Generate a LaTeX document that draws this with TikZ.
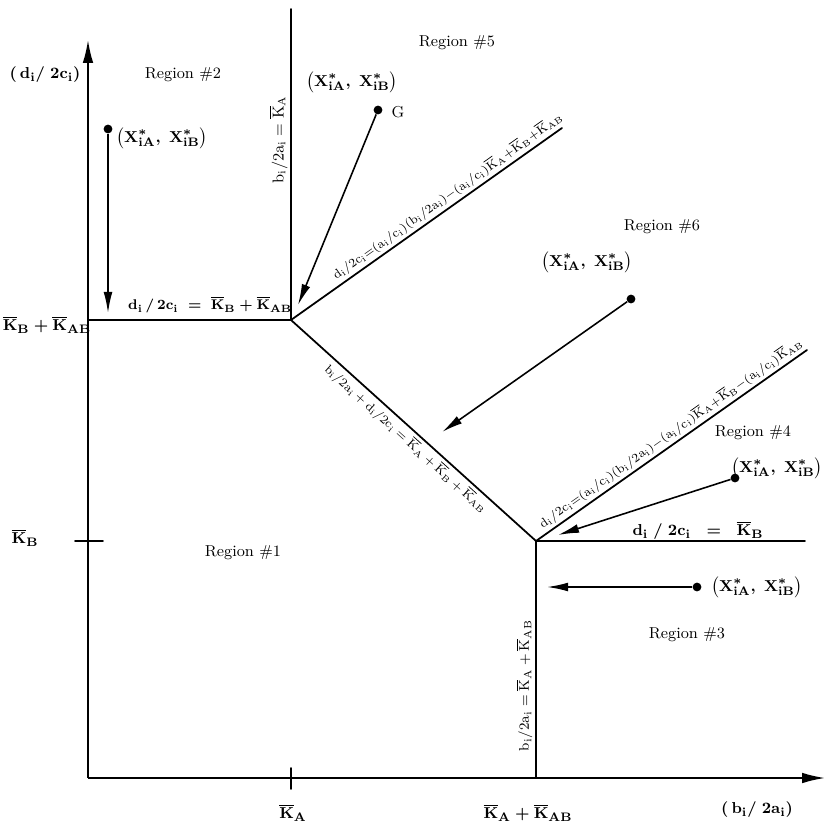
\documentclass[tikz,border=0pt]{standalone}
\usetikzlibrary{arrows.meta}
\newcommand{\Kb}[1]{\overline{\mathrm{K}}_{\mathrm{#1}}}
\newcommand{\Xs}{\bigl(\mathrm{X}^{*}_{\mathrm{iA}},\;\mathrm{X}^{*}_{\mathrm{iB}}\bigr)}
\tikzset{
  axis/.style={line width=1pt,-{Latex[length=13pt,width=6pt]}},
  bound/.style={line width=1pt,line cap=round},
  move/.style={line width=0.9pt,-{Latex[length=12pt,width=5pt]}},
  pt/.style={circle,fill,inner sep=0pt,minimum size=5pt},
  region/.style={font=\fontsize{9}{11}\selectfont},
  xlab/.style={font=\fontsize{9.5}{12}\selectfont\boldmath},
  mlab/.style={font=\fontsize{9.5}{11}\selectfont\boldmath},
  eqlab/.style={font=\fontsize{7}{8}\selectfont,sloped,inner sep=1.5pt},
  vlab/.style={font=\fontsize{8}{9}\selectfont,sloped,inner sep=1.5pt}
}
\begin{document}
\begin{tikzpicture}[x=0.02cm,y=0.02cm]
\useasboundingbox (0,0) rectangle (825,823);
\coordinate (O) at (88,45);
\coordinate (ytop) at (88,783);
\coordinate (xend) at (825,45);
\coordinate (P1) at (291,503);
\coordinate (P2) at (536,282);
\coordinate (top) at (291,814);
\coordinate (left) at (88,503);
\coordinate (right) at (805,282);
\coordinate (bot) at (536,45);
\coordinate (up1) at (562,695);
\coordinate (up2) at (807,473);
\coordinate (kB) at (88,282);
\coordinate (kA) at (291,45);

\draw[axis] (O) -- (ytop);
\draw[axis] (O) -- (xend);
\draw[bound] (kB) ++(-13,0) -- ++(28,0);
\draw[bound] (kA) ++(0,-11) -- ++(0,21);

\draw[bound] (left) -- (P1);
\draw[bound] (P2) -- (right);
\draw[bound] (P1) -- (top) node[vlab,font=\fontsize{9}{10}\selectfont,pos=0.58,above] {$\mathrm{b_i/2a_i = \Kb{A}}$};
\draw[bound] (P1) -- (P2) node[eqlab,pos=0.5,below] {$\mathrm{b_i/2a_i + d_i/2c_i = \Kb{A} + \Kb{B} + \Kb{AB}}$};
\draw[bound] (P1) -- (up1) node[eqlab,pos=0.6,above] {$\mathrm{d_i/2c_i{=}(a_i/c_i)(b_i/2a_i){-}(a_i/c_i)\Kb{A}{+}\Kb{B}{+}\Kb{AB}}$};
\draw[bound] (P2) -- (up2) node[eqlab,pos=0.52,above] {$\mathrm{d_i/2c_i{=}(a_i/c_i)(b_i/2a_i){-}(a_i/c_i)\Kb{A}{+}\Kb{B}{-}(a_i/c_i)\Kb{AB}}$};
\draw[bound] (bot) -- (P2) node[vlab,pos=0.39,above] {$\mathrm{b_i/2a_i = \Kb{A} + \Kb{AB}}$};

\node[mlab] (ylab) at (45,748) {$\mathrm{(\,d_i/\;2c_i)}$};
\node[mlab] (xlab) at (757,13) {$\mathrm{(\,b_i/\;2a_i)}$};
\node[mlab] (kblab) at (25,285) {$\Kb{B}$};
\node[mlab] (kbablab) at (47,498) {$\Kb{B} + \Kb{AB}$};
\node[mlab] (kalab) at (293,10) {$\Kb{A}$};
\node[mlab] (kaablab) at (528,10) {$\Kb{A} + \Kb{AB}$};
\node[mlab,font=\fontsize{8.5}{10}\selectfont\boldmath,anchor=west] (line2) at (122,518) {$\mathrm{d_i\,/\,2c_i\;=\;\Kb{B} + \Kb{AB}}$};
\node[mlab] (line4) at (698,293) {$\mathrm{d_i\;/\;2c_i\;\;=\;\;\Kb{B}}$};

\node[region] (r1) at (243,270) {Region \#1};
\node[region] (r2) at (183,748) {Region \#2};
\node[region] (r3) at (687,188) {Region \#3};
\node[region] (r4) at (753,390) {Region \#4};
\node[region] (r5) at (457,780) {Region \#5};
\node[region] (r6) at (662,596) {Region \#6};

\node[xlab] (x2) at (162,685) {$\Xs$};
\node[xlab] (x3) at (757,236) {$\Xs$};
\node[xlab] (x4) at (777,355) {$\Xs$};
\node[xlab] (x5) at (352,741) {$\Xs$};
\node[xlab] (x6) at (587,561) {$\Xs$};

\node[pt] (s2) at (108,694) {};
\node[pt] (s3) at (697,236) {};
\node[pt] (s4) at (735,345) {};
\node[pt] (s5) at (378,713) {};
\node[pt] (s6) at (631,524) {};
\node[region] (g) at (398,711) {G};

\coordinate (e2) at (108,510);
\coordinate (e3) at (547,236);
\coordinate (e4) at (558,288);
\coordinate (e5) at (298,518);
\coordinate (e6) at (442,391);
\draw[move] (s2) -- (e2);
\draw[move] (s3) -- (e3);
\draw[move] (s4) -- (e4);
\draw[move] (s5) -- (e5);
\draw[move] (s6) -- (e6);
\end{tikzpicture}
\end{document}
